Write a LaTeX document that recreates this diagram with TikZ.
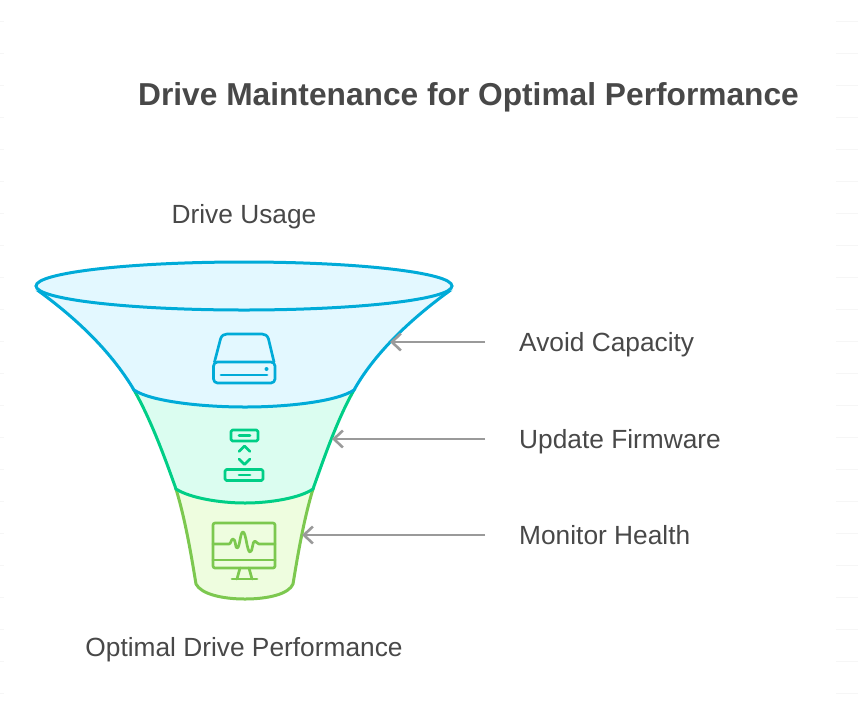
\documentclass[tikz,border=0pt]{standalone}
\usepackage{fontspec}
\setmainfont{Liberation Sans}
\usetikzlibrary{arrows.meta}
\definecolor{txtgray}{HTML}{484848}
\definecolor{arrowgray}{HTML}{9A9A9A}
\definecolor{tickgray}{HTML}{F6F6F6}
\definecolor{blueline}{HTML}{00ABD8}
\definecolor{bluefill}{HTML}{E3F8FF}
\definecolor{greenline}{HTML}{00CE86}
\definecolor{greenfill}{HTML}{DBFDF0}
\definecolor{limeline}{HTML}{7CC84F}
\definecolor{limefill}{HTML}{EEFDDF}
\tikzset{
  title/.style={font=\fontsize{31.7}{36}\selectfont\bfseries, text=txtgray, inner sep=0pt},
  label/.style={font=\fontsize{26.3}{30}\selectfont, text=txtgray, inner sep=0pt},
  pointer/.style={draw=arrowgray, line width=2.6pt, -{Straight Barb[length=9pt,width=17pt,line width=2.6pt]}},
  icon/.style={line width=2.7pt, line cap=round, line join=round},
}
\begin{document}
\begin{tikzpicture}[x=1pt,y=-1pt]
  \useasboundingbox (0,0) rectangle (858,710);
  % margin ticks
  \foreach \y in {0,...,21} {
    \fill [tickgray] (0,20.5+32*\y) rectangle (4,22+32*\y);
    \fill [tickgray] (836,20.5+32*\y) rectangle (858,22+32*\y);
  }

  % funnel
  \draw [draw=limeline, fill=limefill, line width=3pt] (176,489)
    .. controls (186,522) and (192,560) .. (196,584)
    .. controls (201,594) and (222,599) .. (245,599)
    .. controls (268,599) and (289,594) .. (293,584)
    .. controls (297,560) and (303,522) .. (313,489)
    -- cycle;
  \draw [draw=greenline, fill=greenfill, line width=3pt] (134,390)
    .. controls (150,418) and (164,455) .. (176,489)
    .. controls (190,498) and (220,503) .. (245,503)
    .. controls (270,503) and (300,498) .. (313,489)
    .. controls (325,455) and (338,418) .. (354,390)
    -- cycle;
  \draw [draw=blueline, fill=bluefill, line width=3pt] (40,292)
    .. controls (85,325) and (115,358) .. (134,390)
    .. controls (150,401) and (200,407) .. (245,407)
    .. controls (290,407) and (338,401) .. (354,390)
    .. controls (372,358) and (403,325) .. (448,292)
    -- cycle;
  \draw [draw=blueline, fill=bluefill, line width=3pt] (244,286) ellipse [x radius=208, y radius=24];

  % disk icon
  \begin{scope}[icon, draw=blueline]
    \draw (214.5,362) -- (220.5,339) .. controls (221.5,335.5) and (224,334) .. (227,334)
      -- (262,334) .. controls (265,334) and (267.5,335.5) .. (268.5,339) -- (274,362);
    \draw [rounded corners=4pt] (213.5,362) rectangle (275,383);
    \draw (221,375) -- (267,375);
    \fill [blueline] (266.5,369) circle (2);
  \end{scope}

  % update icon
  \begin{scope}[icon, draw=greenline]
    \draw [rounded corners=1.5pt] (231,430) rectangle (258,441);
    \draw (239,435.5) -- (250,435.5);
    \draw (239,451.5) -- (244.5,446) -- (250,451.5);
    \draw (239,459) -- (244.5,464.5) -- (250,459);
    \draw [rounded corners=1.5pt] (225,469.5) rectangle (263,480.5);
    \draw (239,475) -- (250,475);
  \end{scope}

  % monitor icon
  \begin{scope}[icon, draw=limeline]
    \draw [rounded corners=2pt] (213,523) rectangle (275,568);
    \draw (213,560) -- (275,560);
    \draw (213,544) -- (229,544)
      .. controls (231,544) and (231,539) .. (233,539)
      .. controls (236,539) and (235,548) .. (237,548)
      .. controls (240,548) and (240,532) .. (243,532)
      .. controls (246,532) and (247,552) .. (250,552)
      .. controls (253,552) and (252,541) .. (255,541)
      .. controls (256.5,541) and (256.5,544) .. (259,544)
      -- (275,544);
    \draw (240,568) -- (237,579);
    \draw (249,568) -- (252,579);
    \draw (232,579) -- (257,579);
  \end{scope}

  % labels
  \node [title, anchor=west] (heading) at (138,97.5) {Drive Maintenance for Optimal Performance};
  \node [label] (usage) at (244,217) {Drive Usage};
  \node [label] (optimal) at (244,650) {Optimal Drive Performance};
  \node [label, anchor=west] (capacity) at (519,345) {Avoid Capacity};
  \node [label, anchor=west] (firmware) at (519,442) {Update Firmware};
  \node [label, anchor=west] (health) at (519,535.5) {Monitor Health};

  % pointers
  \coordinate (capacitytip) at (390,342);
  \coordinate (firmwaretip) at (332,439);
  \coordinate (healthtip) at (302,535);
  \draw [pointer] (485,342) -- (capacitytip);
  \draw [pointer] (485,439) -- (firmwaretip);
  \draw [pointer] (485,535) -- (healthtip);
\end{tikzpicture}
\end{document}
